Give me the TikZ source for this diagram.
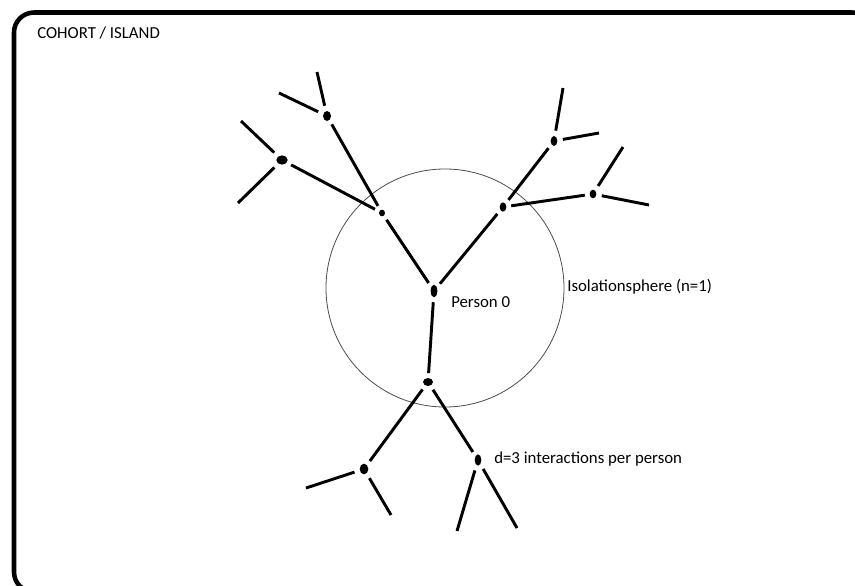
\documentclass[tikz,border=0pt]{standalone}
\usepackage{fontspec}
\setmainfont{Carlito}
\usetikzlibrary{shapes.geometric}
\tikzstyle{person} = [ellipse, fill=black, inner sep=0pt, minimum width=5pt, minimum height=6.5pt]
\tikzstyle{link} = [line width=2.2pt, shorten <=3.5pt, shorten >=3.5pt]
\tikzstyle{stub} = [line width=2.2pt, shorten <=4pt]
\tikzstyle{note} = [anchor=west, inner sep=0pt, font=\fontsize{12.6}{14}\selectfont]

\begin{document}
\begin{tikzpicture}[x=0.75pt, y=-0.75pt]
    \useasboundingbox (0,0) rectangle (855,585);
    \clip (0,0) rectangle (855,585);
    % island frame, runs off the page on the right and bottom
    \draw[line width=3.4pt, rounded corners=15pt] (14,12.5) rectangle (872,592);
    \node[note] (cohort) at (37,33) {COHORT / ISLAND};

    % isolation sphere
    \node[circle, draw=black!70, line width=0.6pt, minimum size=178.5pt] (sphere) at (445,288) {};
    \node[note] (spherelbl) at (567,287) {Isolationsphere (n=1)};

    % persons
    \node[person, minimum width=5pt, minimum height=9.5pt] (p0) at (434,291) {};
    \node[person, minimum width=4.5pt, minimum height=5pt] (pa) at (382,213) {};
    \node[person, minimum width=5pt, minimum height=7pt] (pb) at (503,207) {};
    \node[person, minimum width=7.5pt, minimum height=6pt] (pc) at (428,382) {};
    \node[person, minimum width=6pt, minimum height=7.5pt] (pa1) at (327,116) {};
    \node[person, minimum width=8.5pt, minimum height=7pt] (pa2) at (282,160) {};
    \node[person, minimum width=5pt, minimum height=7.5pt] (pb1) at (554,141) {};
    \node[person, minimum width=5pt, minimum height=6.5pt] (pb2) at (593,194) {};
    \node[person, minimum width=6.5pt, minimum height=8pt] (pc1) at (364,469) {};
    \node[person, minimum width=5pt, minimum height=8.5pt] (pc2) at (478,460) {};

    \node[note] (p0lbl) at (451,302) {Person 0};
    \node[note] (dlbl) at (494,459) {d=3 interactions per person};

    % interactions
    \draw[link] (p0) -- (pa);
    \draw[link] (p0) -- (pb);
    \draw[link] (p0) -- (pc);
    \draw[link] (pa) -- (pa1);
    \draw[link] (pa) -- (pa2);
    \draw[link] (pb) -- (pb1);
    \draw[link] (pb) -- (pb2);
    \draw[link] (pc) -- (pc1);
    \draw[link] (pc) -- (pc2);

    % next round, cut short
    \coordinate (a1l) at (279,93);
    \coordinate (a1u) at (317,72);
    \coordinate (a2u) at (241,121);
    \coordinate (a2d) at (238,203);
    \coordinate (b1u) at (563,88);
    \coordinate (b1r) at (599,133);
    \coordinate (b2u) at (623,147);
    \coordinate (b2r) at (649,205);
    \coordinate (c1l) at (306,488);
    \coordinate (c1d) at (391,515);
    \coordinate (c2l) at (457,531);
    \coordinate (c2r) at (517,528);
    \foreach \p/\q in {pa1/a1l, pa1/a1u, pa2/a2u, pa2/a2d, pb1/b1u, pb1/b1r,
                       pb2/b2u, pb2/b2r, pc1/c1l, pc1/c1d, pc2/c2l, pc2/c2r}
        \draw[stub] (\p) -- (\q);
\end{tikzpicture}
\end{document}
